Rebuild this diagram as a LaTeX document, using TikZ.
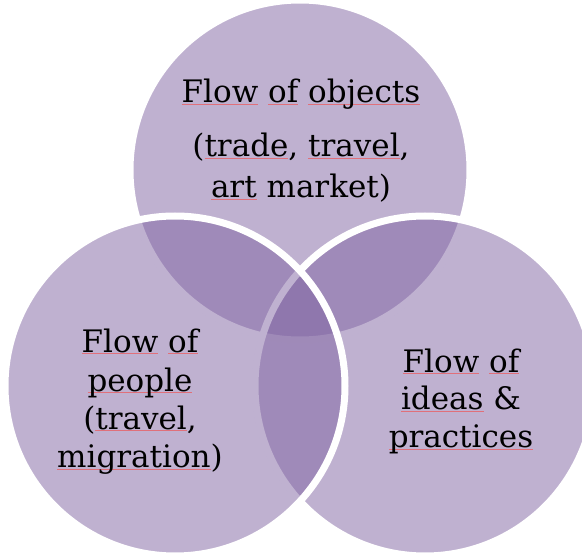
\documentclass[tikz,border=0pt]{standalone}
\usepackage{fontspec}
\setmainfont{DejaVu Serif}
\definecolor{vennfill}{HTML}{8064A2}
\definecolor{spellred}{HTML}{E0707A}
% thin red spell-check style underline
\newsavebox\spellbox
\newcommand\spell[1]{\sbox\spellbox{#1}%
  \rlap{\textcolor{spellred}{\rule[-1.6pt]{\wd\spellbox}{0.9pt}}}\usebox\spellbox}
\tikzset{
  venn/.style={circle, minimum size=340pt, inner sep=0pt, fill=vennfill,
    fill opacity=0.5, draw=white, draw opacity=1, line width=7pt},
  label/.style={align=center, text=black, inner sep=0pt,
    font=\fontsize{31}{38.5}\selectfont},
}
\begin{document}
\begin{tikzpicture}[x=1pt,y=-1pt]
  \useasboundingbox (0,0) rectangle (582,556);
  \clip (0,0) rectangle (582,556);
  % the three sets, drawn top, right, left
  \node[venn] (objects) at (300,170) {};
  \node[venn] (ideas)   at (425,386) {};
  \node[venn] (people)  at (175,386) {};
  % captions, each placed by the baseline of its last line
  \node[label, font=\fontsize{31}{41}\selectfont, anchor=base] (tobj) at (301,198)
    {\spell{Flow} \spell{of} \spell{objects}\\[13pt]
     (\spell{trade}, \spell{travel},\\ \spell{art} market)};
  \node[label, anchor=base] (tppl) at (140,468)
    {\spell{Flow} \spell{of}\\ \spell{people}\\ (\spell{travel},\\ \spell{migration})};
  \node[label, font=\fontsize{31}{38}\selectfont, anchor=base] (tidea) at (461,448)
    {\spell{Flow} \spell{of}\\ \spell{ideas} \&\\ \spell{practices}};
\end{tikzpicture}
\end{document}
